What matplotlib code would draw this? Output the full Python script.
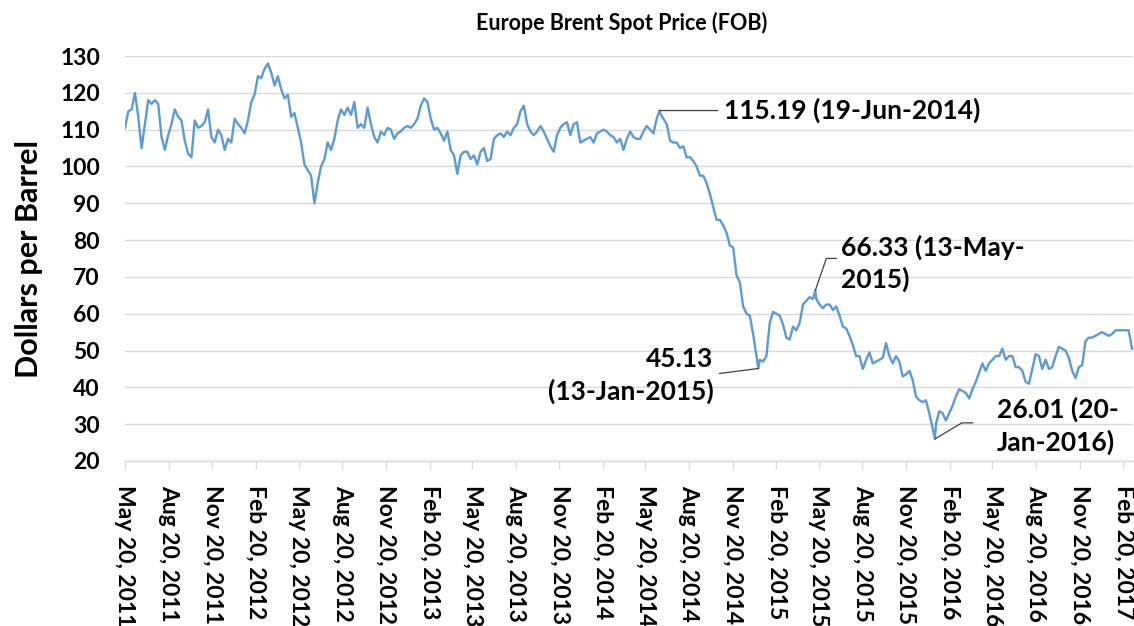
"""Europe Brent spot price (FOB), weekly readings May 2011 - Mar 2017, with the
four turning points called out."""

import math

import matplotlib
matplotlib.use("Agg")
import matplotlib.pyplot as plt
import matplotlib.dates as mdates
import pandas as pd

plt.rcParams["font.family"] = ["Lato", "DejaVu Sans"]
plt.rcParams["font.weight"] = "bold"

# weekly (Friday) prices, $/bbl, starting 20 May 2011
START = "2011-05-20"
p2011 = [110.5, 115.0,
         115.5, 120.0, 113.5, 105.0,
         111.5, 118.0, 117.0, 118.0, 117.0,
         108.0, 104.5, 108.5, 111.5,
         115.5, 113.5, 112.5, 107.0, 103.5,
         102.5, 112.5, 110.5, 111.0,
         112.0, 115.5, 108.0, 106.5,
         110.0, 108.5, 104.5, 107.5, 106.5]
p2012 = [113.0, 111.5, 110.5, 109.0,
         112.5, 117.5, 119.5, 124.5,
         124.0, 126.5, 128.0, 125.5, 122.0,
         124.5, 121.0, 118.5, 119.5,
         113.5, 114.5, 110.5, 106.5,
         100.5, 99.0, 97.5, 90.0, 95.5,
         100.0, 102.0, 106.5, 104.5,
         107.5, 112.5, 115.5, 114.0, 116.0,
         114.0, 117.5, 110.5, 111.5,
         110.5, 116.0, 111.5, 108.0,
         106.5, 109.5, 108.5, 110.5, 110.0,
         107.5, 109.0, 109.5, 110.5]
p2013 = [111.0, 110.5, 111.5, 113.0,
         116.5, 118.5, 117.5, 113.0,
         110.0, 110.5, 109.0, 107.0, 109.5,
         104.5, 103.0, 98.0, 103.0,
         104.0, 104.0, 102.0, 103.0, 100.5,
         104.0, 105.0, 101.5, 102.0,
         107.5, 108.5, 109.0, 108.0,
         109.5, 108.5, 110.5, 111.5, 115.0,
         116.5, 111.5, 109.5, 108.5,
         109.5, 111.0, 109.5, 107.5,
         105.5, 104.0, 108.5, 110.5, 111.5,
         112.0, 108.5, 111.5, 112.0]
p2014 = [106.5, 107.0, 107.5, 108.0, 106.5,
         109.0, 109.5, 110.0, 109.5,
         108.5, 108.0, 106.5, 107.5,
         104.5, 107.5, 109.5, 108.0,
         107.5, 107.5, 109.5, 111.0, 110.0,
         109.0, 113.0, 114.5, 113.0,
         111.5, 107.0, 106.5, 106.5,
         105.0, 105.5, 102.5, 102.5, 101.5,
         100.0, 97.5, 97.5, 95.5,
         92.5, 89.0, 85.5, 85.5, 84.0,
         82.0, 78.5, 78.0, 70.5,
         68.5, 62.0, 60.0, 59.5]
p2015 = [54.5, 48.5, 47.5, 47.0, 48.5,
         57.5, 60.5, 60.0, 59.5,
         57.0, 53.5, 53.0, 56.5,
         55.5, 57.5, 62.5, 63.5,
         64.5, 64.0, 64.0, 62.5, 61.5,
         62.5, 62.5, 61.0, 62.0,
         59.5, 56.5, 56.0, 54.0, 51.5,
         48.5, 48.5, 45.0, 47.5,
         49.5, 46.5, 47.0, 47.5,
         48.0, 52.0, 48.5, 46.5, 48.5,
         47.0, 43.0, 43.5, 44.5,
         42.0, 37.5, 36.5, 36.0]
p2016 = [36.5, 33.0, 29.0, 30.0, 33.5,
         33.0, 31.0, 33.0, 35.0,
         37.5, 39.5, 39.0, 38.5,
         37.0, 39.5, 41.5, 44.0, 46.5,
         44.5, 46.5, 47.5, 48.5,
         48.5, 50.5, 47.5, 48.5,
         48.5, 45.5, 45.5, 44.5, 41.5,
         41.0, 45.0, 49.0, 48.5,
         45.0, 47.5, 45.0, 45.5, 48.5,
         51.0, 50.5, 50.0, 48.0,
         44.5, 42.5, 45.5, 46.0,
         52.5, 53.5, 53.5, 54.0, 54.5]
p2017 = [55.0, 54.5, 54.0, 54.5,
         55.5, 55.5, 55.5, 55.5,
         55.5, 50.5]

# labelled turning points
peak_dates = ["2014-06-19", "2015-01-13", "2015-05-13", "2016-01-20"]
peak_values = [115.19, 45.13, 66.33, 26.01]
peak_labels = ["115.19 (19-Jun-2014)", "45.13\n(13-Jan-2015)",
               "66.33 (13-May-\n2015)", "26.01 (20-\nJan-2016)"]

prices = p2011 + p2012 + p2013 + p2014 + p2015 + p2016 + p2017
weekly = pd.Series(prices, index=pd.date_range(START, periods=len(prices), freq="7D"))
peaks = pd.Series(peak_values, index=pd.to_datetime(peak_dates))
series = pd.concat([weekly, peaks]).sort_index()

BLUE = "#5B9BD5"
GRID = "#D9D9D9"
LEADER = "#404040"

fig = plt.figure(figsize=(11.34, 6.26), dpi=100)
ax = fig.add_axes([0.1102, 0.2636, 0.8893, 0.6469])
ax.plot(series.index, series.values, color=BLUE, lw=1.7, solid_joinstyle="round")

ax.set_ylim(20, 130)
ax.set_yticks(range(20, 131, 10))
ax.set_xlim(pd.Timestamp(START), pd.Timestamp("2017-03-13"))
ax.xaxis.set_major_locator(mdates.MonthLocator(bymonth=[2, 5, 8, 11], bymonthday=20))
ax.xaxis.set_major_formatter(mdates.DateFormatter("%b %d, %Y"))

ax.grid(axis="y", color=GRID, lw=1)
ax.set_axisbelow(True)
for s in ("top", "right", "left"):
    ax.spines[s].set_visible(False)
ax.spines["bottom"].set_color(GRID)
ax.spines["bottom"].set_linewidth(1)
ax.tick_params(axis="y", length=0, pad=18, labelsize=16.5)
ax.tick_params(axis="x", length=6, width=1, color=GRID, pad=11, labelsize=16.5,
               rotation=-90)
for lab in ax.get_xticklabels():
    lab.set_va("top")
    lab.set_ha("center")

ax.set_ylabel("Dollars per Barrel", fontsize=22, fontweight="bold", labelpad=12)
fig.text(0.548, 0.963, "Europe Brent Spot Price (FOB)", ha="center", va="center",
         fontsize=15.5, fontweight="bold")

# leader end (pixels from the turning point), optional elbow, text offset
leader_end = [(58, 0), (-39, -5), (21, 32), (38, 16)]
leader_elbow = [None, None, (11, 32), (27, 16)]
text_off = [(64, 0, "left"), (-45, -7, "right"), (26, 27, "left"), (62, 13, "left")]
for d, v, lab, end, elbow, (tx, ty, ha) in zip(peaks.index, peaks.values, peak_labels,
                                               leader_end, leader_elbow, text_off):
    if elbow is None:
        conn = "arc3"
    else:
        conn = "angle,angleA=0,angleB=%.1f,rad=0" % math.degrees(
            math.atan2(elbow[1], elbow[0]))
    ax.annotate("", xy=(d, v), xytext=end, textcoords="offset pixels",
                arrowprops=dict(arrowstyle="-", color=LEADER, lw=0.9,
                                shrinkA=0, shrinkB=0, connectionstyle=conn))
    ax.annotate(lab, xy=(d, v), xytext=(tx, ty), textcoords="offset pixels",
                ha=ha, va="center", fontsize=19, fontweight="bold",
                linespacing=1.35, multialignment=ha)

fig.savefig("out.png", dpi=100)
